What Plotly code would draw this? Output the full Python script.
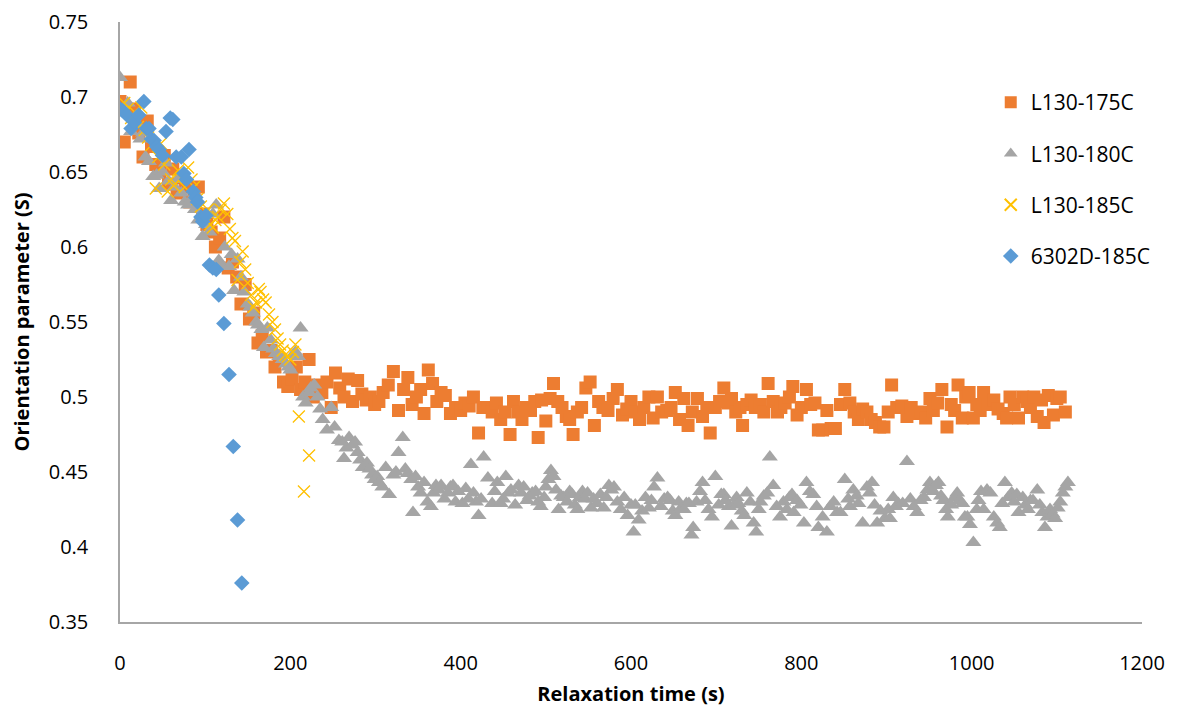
import plotly.graph_objects as go

# L130-175C
x175 = [0,5,12,17,22,27,32,37,42,47,52,57,62,67,72,77,82,87,92,97,102,107,112,117,122,127,132,137,142,147,
        152,157,162,167,172,177,182,187,192,197,202,207,212,217,222,227,232,237,243,248,253,258,263,268,273,279,284,289,294,299,
        304,309,315,321,327,333,338,343,348,353,357,362,367,372,377,382,388,394,400,405,410,415,421,426,432,437,442,447,452,458,
        462,467,472,477,482,487,491,495,500,505,509,514,519,524,528,532,537,542,547,552,557,562,567,573,579,584,590,595,600,605,
        610,615,621,626,631,636,642,647,652,657,662,667,672,678,684,689,693,699,704,709,714,718,723,728,731,736,741,746,752,756,
        761,767,772,776,781,786,790,795,800,806,811,816,820,825,830,835,840,846,851,857,862,867,872,877,882,887,892,897,902,906,
        912,918,924,929,934,940,946,951,955,960,965,971,976,980,984,989,993,997,1002,1006,1010,1014,1019,1026,1031,1037,1041,1045,1050,1055,
        1060,1065,1069,1073,1077,1082,1085,1090,1096,1100,1104,1110]
y175 = [0.697,0.670,0.710,0.692,0.676,0.660,0.684,0.667,0.655,0.650,0.661,0.642,0.652,0.636,0.646,0.640,0.630,0.636,0.640,0.622,
        0.615,0.610,0.600,0.606,0.620,0.586,0.590,0.580,0.562,0.575,0.552,0.556,0.536,0.541,0.530,0.531,0.520,0.525,0.510,0.507,
        0.512,0.520,0.505,0.510,0.525,0.500,0.508,0.503,0.510,0.493,0.516,0.506,0.500,0.512,0.497,0.511,0.502,0.498,0.500,0.495,
        0.497,0.503,0.508,0.517,0.491,0.505,0.513,0.495,0.500,0.505,0.489,0.518,0.509,0.497,0.503,0.501,0.489,0.493,0.491,0.496,
        0.494,0.500,0.476,0.493,0.493,0.490,0.496,0.485,0.490,0.475,0.497,0.490,0.485,0.493,0.491,0.497,0.473,0.498,0.484,0.499,
        0.509,0.497,0.493,0.487,0.485,0.475,0.490,0.493,0.506,0.510,0.481,0.497,0.493,0.491,0.499,0.505,0.488,0.492,0.497,0.490,
        0.485,0.493,0.500,0.486,0.500,0.490,0.491,0.493,0.503,0.485,0.499,0.481,0.490,0.499,0.487,0.493,0.476,0.493,0.497,0.506,
        0.496,0.499,0.490,0.493,0.481,0.495,0.498,0.493,0.495,0.490,0.509,0.497,0.490,0.493,0.496,0.500,0.507,0.488,0.493,0.505,
        0.495,0.496,0.478,0.478,0.491,0.479,0.479,0.495,0.505,0.496,0.490,0.485,0.492,0.490,0.485,0.483,0.480,0.480,0.490,0.508,
        0.493,0.494,0.487,0.493,0.489,0.490,0.486,0.499,0.491,0.496,0.505,0.480,0.495,0.491,0.508,0.486,0.500,0.503,0.486,0.495,
        0.491,0.503,0.495,0.498,0.492,0.489,0.486,0.500,0.495,0.486,0.500,0.497,0.493,0.500,0.487,0.498,0.483,0.501,0.488,0.499,
        0.500,0.490]

# L130-180C
x180 = [0,4,9,13,16,20,24,27,30,34,39,43,46,50,54,57,60,64,68,72,76,80,84,88,92,97,101,105,109,113,
        116,118,123,128,131,134,138,142,146,150,153,156,160,162,166,169,173,177,180,183,187,191,195,198,200,203,206,209,212,215,
        218,222,224,228,232,235,238,243,248,252,257,261,263,266,269,273,276,279,282,285,290,293,296,299,302,304,308,312,316,321,
        324,327,332,335,338,342,344,347,350,353,357,361,365,368,371,374,377,381,385,388,391,394,397,402,406,409,412,415,418,421,
        424,427,432,437,440,443,447,450,453,456,459,464,468,471,474,478,481,484,488,491,494,498,500,503,506,509,512,515,518,521,
        525,528,531,534,537,540,543,546,549,553,556,560,564,568,571,574,577,580,584,588,592,596,600,603,605,609,613,617,621,624,
        627,631,635,639,643,646,649,652,656,659,662,665,668,671,673,677,681,684,687,691,695,699,703,706,709,711,715,718,721,724,
        726,730,733,736,740,744,747,750,752,756,760,763,767,771,775,779,783,786,789,791,795,799,803,806,810,814,818,820,825,830,
        834,838,842,846,851,855,857,861,865,867,872,877,880,883,886,889,893,898,902,904,908,911,914,919,924,928,932,936,940,944,
        948,951,955,958,961,964,967,970,972,976,980,983,986,989,992,995,998,1002,1006,1008,1011,1014,1018,1022,1026,1030,1033,1036,1039,1043,
        1047,1050,1053,1055,1060,1063,1066,1069,1072,1077,1080,1083,1086,1089,1092,1095,1098,1101,1104,1107,1110,1113]
y180 = [0.713,0.690,0.696,0.677,0.685,0.682,0.672,0.676,0.660,0.657,0.647,0.648,0.639,0.650,0.656,0.644,0.631,0.640,0.645,0.636,
        0.630,0.628,0.632,0.625,0.618,0.607,0.615,0.610,0.622,0.628,0.591,0.588,0.600,0.587,0.595,0.571,0.592,0.580,0.570,0.562,
        0.560,0.556,0.550,0.548,0.545,0.533,0.546,0.538,0.532,0.529,0.527,0.525,0.522,0.520,0.518,0.528,0.530,0.527,0.546,0.500,
        0.496,0.503,0.506,0.508,0.500,0.492,0.485,0.478,0.493,0.480,0.471,0.470,0.459,0.466,0.473,0.468,0.470,0.463,0.458,0.453,
        0.456,0.452,0.448,0.445,0.447,0.443,0.440,0.453,0.435,0.448,0.450,0.463,0.473,0.452,0.449,0.445,0.423,0.447,0.440,0.436,
        0.443,0.430,0.427,0.436,0.441,0.438,0.441,0.432,0.436,0.440,0.441,0.430,0.437,0.429,0.439,0.432,0.455,0.436,0.430,0.421,
        0.432,0.460,0.446,0.429,0.437,0.443,0.429,0.432,0.447,0.436,0.438,0.428,0.441,0.436,0.440,0.431,0.434,0.436,0.437,0.430,
        0.427,0.433,0.440,0.445,0.451,0.447,0.438,0.425,0.434,0.433,0.430,0.437,0.435,0.428,0.425,0.433,0.437,0.432,0.436,0.426,
        0.432,0.429,0.435,0.426,0.433,0.441,0.438,0.440,0.430,0.425,0.433,0.421,0.428,0.410,0.428,0.418,0.424,0.433,0.426,0.431,
        0.440,0.446,0.427,0.432,0.433,0.431,0.424,0.421,0.430,0.426,0.425,0.429,0.429,0.408,0.413,0.430,0.437,0.443,0.431,0.425,
        0.420,0.447,0.428,0.435,0.435,0.431,0.427,0.414,0.428,0.433,0.429,0.424,0.421,0.436,0.430,0.416,0.410,0.425,0.430,0.434,
        0.436,0.460,0.441,0.427,0.420,0.430,0.425,0.433,0.435,0.423,0.431,0.428,0.416,0.443,0.437,0.435,0.427,0.413,0.420,0.410,
        0.427,0.430,0.423,0.423,0.445,0.432,0.427,0.438,0.434,0.429,0.416,0.440,0.436,0.443,0.428,0.416,0.424,0.419,0.425,0.419,
        0.433,0.427,0.429,0.429,0.457,0.432,0.427,0.423,0.431,0.433,0.438,0.443,0.437,0.441,0.443,0.434,0.431,0.425,0.420,0.428,
        0.433,0.436,0.431,0.429,0.420,0.420,0.415,0.403,0.425,0.431,0.437,0.425,0.438,0.436,0.420,0.416,0.413,0.429,0.443,0.433,
        0.436,0.430,0.435,0.423,0.433,0.428,0.425,0.431,0.431,0.438,0.428,0.423,0.413,0.420,0.425,0.422,0.419,0.426,0.430,0.436,
        0.440,0.443]

# L130-185C
x185 = [0,3,5,9,13,17,21,25,29,33,37,42,45,48,52,56,60,63,68,72,76,80,84,87,91,95,99,103,106,109,
        112,115,118,122,126,129,132,135,138,141,144,147,150,154,157,160,163,165,168,171,175,179,182,185,188,191,194,197,200,203,
        206,210,216,222]
y185 = [0.691,0.690,0.696,0.692,0.686,0.690,0.680,0.693,0.678,0.673,0.668,0.639,0.660,0.669,0.655,0.637,0.645,0.641,0.651,0.646,
        0.640,0.653,0.645,0.640,0.632,0.627,0.622,0.625,0.615,0.613,0.618,0.620,0.625,0.629,0.622,0.612,0.606,0.604,0.578,0.590,
        0.597,0.585,0.576,0.568,0.560,0.563,0.572,0.570,0.565,0.563,0.555,0.550,0.545,0.539,0.535,0.531,0.528,0.527,0.525,0.530,
        0.535,0.487,0.437,0.461]

# 6302D-185C
x6302 = [0,3,8,13,17,22,28,31,34,37,40,43,46,50,54,59,62,66,72,75,78,81,86,89,91,95,97,101,105,109,
         113,116,122,128,133,138,143]
y6302 = [0.692,0.691,0.688,0.679,0.683,0.688,0.697,0.679,0.679,0.672,0.671,0.667,0.665,0.661,0.677,0.686,0.685,0.660,0.660,0.649,
         0.645,0.665,0.637,0.633,0.630,0.620,0.617,0.621,0.588,0.586,0.585,0.568,0.549,0.515,0.467,0.418,0.376]

names = ["L130-175C", "L130-180C", "L130-185C", "6302D-185C"]
xticks = [0, 200, 400, 600, 800, 1000, 1200]
yticks = [0.35, 0.4, 0.45, 0.5, 0.55, 0.6, 0.65, 0.7, 0.75]
ytext = ["0.35", "0.4", "0.45", "0.5", "0.55", "0.6", "0.65", "0.7", "0.75"]

FONT = "Open Sans"
fig = go.Figure()
fig.add_trace(go.Scatter(x=x175, y=y175, mode="markers", name=names[0], legendgroup="a",
                         marker=dict(symbol="square", size=13, color="#ED7D31")))
fig.add_trace(go.Scatter(x=x180, y=y180, mode="markers", name=names[1], legendgroup="b",
                         marker=dict(symbol="triangle-up", size=14, color="#A5A5A5")))
fig.add_trace(go.Scatter(x=x185, y=y185, mode="markers", name=names[2], legendgroup="c",
                         marker=dict(symbol="x-thin-open", size=12, color="#FFC000",
                                     line=dict(width=1.3, color="#FFC000"))))
fig.add_trace(go.Scatter(x=x6302, y=y6302, mode="markers", name=names[3], legendgroup="d",
                         marker=dict(symbol="diamond", size=12, color="#5B9BD5")))

fig.update_layout(
    width=1162, height=699,
    margin=dict(l=112, r=28, t=14, b=85),
    paper_bgcolor="white", plot_bgcolor="white",
    font=dict(family=FONT, size=20, color="#000000"),
    showlegend=True,
    legend=dict(x=0.852, y=0.9, xanchor="left", yanchor="top", traceorder="grouped",
                tracegroupgap=21, font=dict(size=21), bgcolor="rgba(0,0,0,0)", itemsizing="constant",
                itemwidth=30),
)
fig.update_xaxes(range=[0, 1200], tickvals=xticks, ticktext=[str(v) for v in xticks], automargin=False,
                 showgrid=False, zeroline=False, showline=True, linecolor="#A6A6A6", linewidth=1.5,
                 ticks="", ticklabelstandoff=22,
                 title=dict(text="<b>Relaxation time (s)</b>", font=dict(size=20), standoff=16))
fig.update_yaxes(range=[0.35, 0.75], tickvals=yticks, ticktext=ytext, automargin=False,
                 showgrid=False, zeroline=False, showline=True, linecolor="#A6A6A6", linewidth=1.5,
                 ticks="", ticklabelstandoff=26,
                 title=dict(text="<b>Orientation parameter (S)</b>", font=dict(size=20), standoff=14))

fig.write_html("out.html")
